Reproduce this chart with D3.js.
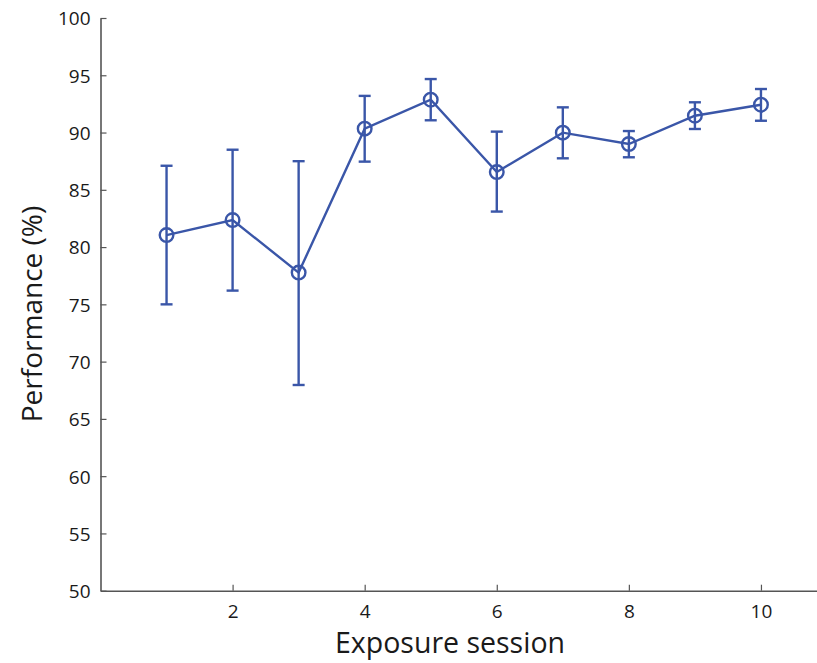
<!DOCTYPE html>
<html><head><meta charset="utf-8">
<script src="https://cdn.jsdelivr.net/npm/d3@7/dist/d3.min.js"></script>
<style>body{margin:0;background:#fff}svg{display:block}</style>
</head><body>
<svg id="c" width="817" height="663"></svg>
<script>
const sessions = [1,2,3,4,5,6,7,8,9,10];
const performance = [81.05,82.36,77.77,90.34,92.87,86.55,89.99,89.0,91.47,92.43];
const errUpper = [87.1,88.5,87.5,93.2,94.67,90.08,92.2,90.13,92.64,93.8];
const errLower = [75.0,76.2,67.96,87.46,91.07,83.1,87.75,87.84,90.31,91.03];
const xTicks = [2,4,6,8,10];
const yTicks = [50,55,60,65,70,75,80,85,90,95,100];

const svg = d3.select("#c");
const font = "'Open Sans', sans-serif";
const color = "#3a56a8";
const axisColor = "#555";

const x = d3.scaleLinear().domain([0,11]).range([100.5, 827]);
const y = d3.scaleLinear().domain([50,100]).range([590.7, 18]);

// axes
const xAxis = svg.append("g").attr("transform",`translate(0,${y(50)})`)
  .call(d3.axisBottom(x).tickValues(xTicks).tickSize(-6).tickPadding(14).tickSizeOuter(0));
const yAxis = svg.append("g").attr("transform",`translate(${x(0)},0)`)
  .call(d3.axisLeft(y).tickValues(yTicks).tickSize(-6).tickPadding(10).tickSizeOuter(0));
[xAxis,yAxis].forEach(a=>{
  a.select(".domain").attr("stroke",axisColor).attr("stroke-width",1.6);
  a.selectAll(".tick line").attr("stroke",axisColor).attr("stroke-width",1.2);
  a.selectAll(".tick text").attr("fill","#1a1a1a").style("font-family",font).style("font-size","19px");
});
yAxis.selectAll(".tick text").attr("dy","0.36em");

// line
svg.append("path").datum(sessions.map((s,i)=>[s,performance[i]]))
  .attr("fill","none").attr("stroke",color).attr("stroke-width",2.4)
  .attr("d", d3.line().x(d=>x(d[0])).y(d=>y(d[1])));

// error bars
const eb = svg.append("g").attr("stroke",color).attr("stroke-width",2.4).attr("fill","none");
sessions.forEach((s,i)=>{
  const cx = x(s);
  eb.append("line").attr("x1",cx).attr("x2",cx).attr("y1",y(errUpper[i])).attr("y2",y(errLower[i]));
  eb.append("line").attr("x1",cx-6).attr("x2",cx+6).attr("y1",y(errUpper[i])).attr("y2",y(errUpper[i]));
  eb.append("line").attr("x1",cx-6).attr("x2",cx+6).attr("y1",y(errLower[i])).attr("y2",y(errLower[i]));
});

// markers
svg.append("g").selectAll("circle").data(sessions).join("circle")
  .attr("cx",d=>x(d)).attr("cy",(d,i)=>y(performance[i])).attr("r",6.8)
  .attr("fill","none").attr("stroke",color).attr("stroke-width",2.4);

// titles
svg.append("text").attr("x",450).attr("y",652.5).attr("text-anchor","middle")
  .style("font-family",font).style("font-size","28.5px").attr("fill","#1a1a1a").text("Exposure session");
svg.append("text").attr("transform","translate(42,314) rotate(-90)").attr("text-anchor","middle")
  .style("font-family",font).style("font-size","28px").attr("fill","#1a1a1a").text("Performance (%)");
</script>
</body></html>
